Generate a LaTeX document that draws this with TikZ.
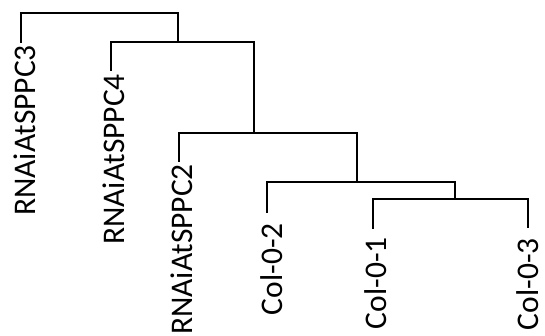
\documentclass[tikz,border=0pt]{standalone}
\usepackage{fontspec}
\setmainfont{Carlito}
\begin{document}
\begin{tikzpicture}[x=1pt,y=-1pt,
  branch/.style={line width=2.6pt},
  sample/.style={rotate=90,anchor=east,inner sep=0pt,
    font=\fontsize{31.5}{38}\selectfont}]
\useasboundingbox (0,0) rectangle (545,336);

% sample names
\node[sample] (rnai3) at (25,45)  {RNAiAtSPPC3};
\node[sample] (rnai4) at (114,74) {RNAiAtSPPC4};
\node[sample] (rnai2) at (182,164) {RNAiAtSPPC2};
\node[sample] (col2)  at (272,223) {Col-0-2};
\node[sample] (col1)  at (376,237) {Col-0-1};
\node[sample] (col3)  at (528,238) {Col-0-3};

% leaf tips
\coordinate (s3) at (21,43);
\coordinate (s4) at (111,71);
\coordinate (s2) at (179,162);
\coordinate (c2) at (267,213);
\coordinate (c1) at (373,229);
\coordinate (c3) at (528,228);

% joins (stem x, bar y)
\coordinate (k1) at (100,13);
\coordinate (k2) at (178,42);
\coordinate (k3) at (254,133);
\coordinate (k4) at (357,182);
\coordinate (k5) at (455,199);

% tree
\draw[branch] (s3) -- (s3 |- k1) -- (k2 |- k1) -- (k2);
\draw[branch] (s4) -- (s4 |- k2) -- (k3 |- k2) -- (k3);
\draw[branch] (s2) -- (s2 |- k3) -- (k4 |- k3) -- (k4);
\draw[branch] (c2) -- (c2 |- k4) -- (k5 |- k4) -- (k5);
\draw[branch] (c1) -- (c1 |- k5) -- (c3 |- k5) -- (c3);

\end{tikzpicture}
\end{document}
